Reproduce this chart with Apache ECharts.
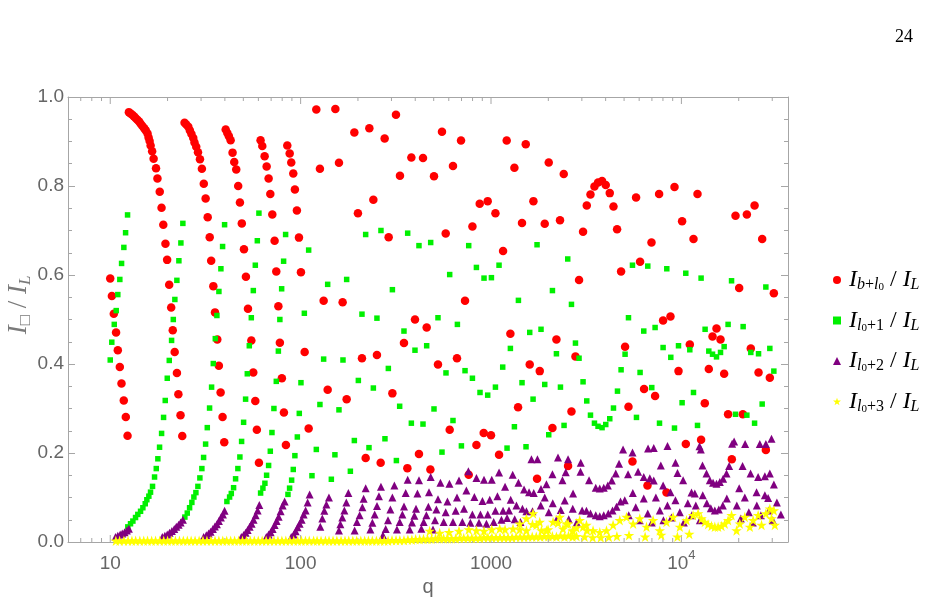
<!DOCTYPE html>
<html><head><meta charset="utf-8">
<script src="https://cdn.jsdelivr.net/npm/echarts@6/dist/echarts.min.js"></script>
<style>html,body{margin:0;padding:0;background:#fff}#c{width:940px;height:607px}</style>
</head><body><div id="c"></div>
<script>
// ---------- data ----------
const xMajorTicks = [10, 100, 1000, 10000];
const xMinorTicks = [7, 8, 9, 20, 30, 40, 50, 60, 70, 80, 90, 200, 300, 400, 500, 600, 700, 800, 900,
  2000, 3000, 4000, 5000, 6000, 7000, 8000, 9000, 20000, 30000];
const yTickLabels = ['0.0', '0.2', '0.4', '0.6', '0.8', '1.0'];
const seriesNames = ['Ib+l0/IL', 'Il0+1/IL', 'Il0+2/IL', 'Il0+3/IL'];

const redPts = [
  [10.0,0.592],[10.2,0.553],[10.44,0.513],[10.73,0.471],[10.96,0.431],[11.23,0.393],[11.46,0.356],[11.78,0.318],[12.07,0.281],[12.33,0.239],
  [12.53,0.966],[12.78,0.963],[13.05,0.96],[13.3,0.957],[13.58,0.953],[13.87,0.949],[14.17,0.945],[14.45,0.94],[14.75,0.935],[15.07,0.93],[15.37,0.925],[15.7,0.918],[15.9,0.909],[16.1,0.901],[16.3,0.891],[16.6,0.878],[16.9,0.861],[17.4,0.84],[17.7,0.817],[18.2,0.787],[18.6,0.751],[19.0,0.713],[19.5,0.67],[19.9,0.634],[20.4,0.578],[20.9,0.527],[21.3,0.476],[21.8,0.427],[22.4,0.38],[22.8,0.332],[23.4,0.285],[23.9,0.238],
  [24.57,0.942],[25.08,0.938],[25.7,0.933],[26.2,0.925],[26.7,0.917],[27.3,0.908],[27.7,0.898],[28.3,0.888],[28.9,0.876],[29.6,0.86],[30.3,0.839],[31.0,0.805],[31.7,0.772],[32.5,0.73],[33.3,0.685],[33.9,0.632],[34.8,0.575],[35.5,0.516],[36.5,0.455],[37.2,0.396],[38.0,0.336],[38.9,0.281],[39.7,0.224],
  [40.4,0.927],[41.2,0.919],[42.0,0.912],[42.9,0.903],[43.9,0.875],[44.8,0.854],[45.9,0.837],[47.0,0.8],[48.0,0.763],[49.1,0.716],[50.4,0.658],[51.6,0.596],[52.9,0.524],[55.1,0.453],[56.4,0.381],[57.8,0.317],[58.9,0.252],[60.4,0.178],
  [61.6,0.903],[62.9,0.89],[64.7,0.867],[66.3,0.844],[67.9,0.817],[69.3,0.782],[71.0,0.736],[73.0,0.677],[74.5,0.608],[76.4,0.53],[77.8,0.448],[79.7,0.368],[81.7,0.291],[83.7,0.218],
  [85.1,0.891],[87.6,0.873],[89.3,0.853],[91.5,0.828],[93.3,0.792],[95.6,0.745],[98.0,0.684],[100.4,0.606],[105.0,0.427],[110.2,0.255],
  [120.9,0.972],[126.3,0.839],[132.1,0.542],[138.7,0.342],[152.2,0.973],[159.0,0.852],[166.2,0.539],[174.5,0.321],[191.5,0.92],[200.0,0.739],[210.0,0.413],[219.6,0.189],
  [229.6,0.93],[241.0,0.769],[251.7,0.42],[263.3,0.178],[276.3,0.907],[290.0,0.685],[303.4,0.334],[316.8,0.96],[332.5,0.823],[349.0,0.447],[363.6,0.166],[381.6,0.864],
  [398.7,0.5],[418.4,0.198],[439.3,0.863],[459.3,0.482],[480.4,0.163],[501.8,0.822],[526.6,0.399],[552.7,0.922],[578.1,0.693],[606.7,0.252],[631.3,0.845],[662.6,0.413],
  [695.8,0.902],[730.3,0.542],[763.6,0.151],[798.7,0.709],[838.2,0.218],[872.3,0.76],[915.6,0.245],[960.7,0.766],[1000,0.24],[1055,0.739],[1102,0.196],[1157,0.654],
  [1209,0.902],[1264,0.468],[1327,0.841],[1387,0.303],[1455,0.717],[1522,0.894],[1597,0.399],[1670,0.766],[1745,0.142],[1803,0.384],[1915,0.715],[2010,0.853],
  [2102,0.256],[2206,0.455],[2304,0.723],[2410,0.827],[2540,0.171],[2646,0.293],[2777,0.417],[2900,0.589],[3044,0.697],[3184,0.756],[3330,0.781],[3494,0.799],
  [3649,0.808],[3831,0.811],[4006,0.802],[4205,0.784],[4398,0.754],[4594,0.703],[4822,0.608],[5060,0.439],[5273,0.304],[5534,0.181],[5780,0.774],[6067,0.63],
  [6368,0.344],[6634,0.127],[6965,0.673],[7275,0.328],[7636,0.782],[8014,0.498],[8350,0.111],[8763,0.507],[9198,0.798],[9656,0.384],[10085,0.721],[10550,0.22],
  [11070,0.444],[11575,0.681],[12150,0.782],[12690,0.23],[13270,0.312],[13930,0.389],[14570,0.462],[15290,0.48],[16050,0.455],[16770,0.378],[17590,0.287],[18400,0.186],
  [19240,0.733],[20110,0.571],[21020,0.287],[22070,0.736],[23150,0.435],[24230,0.756],[25420,0.381],[26560,0.681],[27770,0.207],[29140,0.369],[30590,0.559]
];

const greenPts = [
  [10.0,0.409],[10.19,0.449],[10.5,0.489],[10.75,0.52],[10.96,0.556],[11.23,0.59],[11.47,0.626],[11.79,0.662],[12.04,0.695],[12.33,0.735],
  [12.37,0.034],[12.78,0.041],[13.15,0.047],[13.58,0.055],[13.96,0.062],[14.43,0.069],[14.84,0.077],[15.27,0.086],[15.57,0.095],[15.95,0.103],[16.28,0.112],[16.68,0.125],[17.09,0.146],[17.45,0.165],[17.79,0.187],[18.16,0.213],[18.61,0.244],[19.06,0.28],[19.45,0.318],[19.93,0.368],[20.42,0.408],[21.0,0.453],[21.44,0.5],[21.85,0.545],[22.39,0.588],[22.94,0.632],[23.5,0.672],[24.07,0.716],
  [24.66,0.056],[25.39,0.065],[26.11,0.077],[26.84,0.089],[27.5,0.101],[28.18,0.111],[28.87,0.125],[29.57,0.144],[30.29,0.165],[30.93,0.19],[31.69,0.22],[32.34,0.257],[33.25,0.301],[34.07,0.348],[34.78,0.401],[35.63,0.457],[36.33,0.509],[37.22,0.563],[38.13,0.614],[38.92,0.664],[39.87,0.713],
  [41.0,0.091],[42.36,0.101],[43.24,0.109],[44.45,0.122],[45.54,0.142],[46.82,0.165],[47.97,0.191],[48.98,0.226],[50.18,0.269],[51.4,0.321],[52.47,0.378],[53.76,0.441],[55.08,0.504],[56.43,0.565],[57.81,0.622],[59.23,0.677],[60.39,0.739],
  [61.63,0.11],[63.37,0.121],[64.92,0.132],[66.27,0.15],[67.9,0.172],[69.3,0.204],[70.7,0.246],[72.4,0.3],[74.5,0.361],[76.4,0.429],[77.8,0.5],[79.5,0.569],[81.4,0.631],[83.4,0.691],
  [85.8,0.107],[87.5,0.121],[89.7,0.139],[91.5,0.163],[93.3,0.194],[96.1,0.236],[98.4,0.289],[100.4,0.358],[104.6,0.514],[110.2,0.656],
  [114.7,0.149],[120.9,0.208],[126.3,0.309],[132.1,0.411],[138.7,0.579],[145.0,0.141],[151.4,0.196],[159.0,0.297],[166.9,0.409],[174.5,0.59],[182.5,0.159],[191.5,0.228],
  [201.0,0.363],[210.0,0.512],[219.6,0.691],[228.6,0.212],[241.0,0.346],[251.7,0.503],[264.2,0.7],[277.3,0.232],[288.9,0.39],[303.4,0.567],[318.4,0.183],[331.3,0.305],
  [349.0,0.474],[365.0,0.694],[381.6,0.267],[398.7,0.431],[418.4,0.666],[439.3,0.265],[459.3,0.441],[482.1,0.673],[501.8,0.299],[526.6,0.504],[552.7,0.202],[580.1,0.38],
  [606.7,0.601],[631.3,0.273],[665.9,0.489],[699.0,0.216],[730.3,0.385],[763.6,0.666],[798.7,0.368],[838.2,0.617],[875.4,0.336],[918.9,0.593],[960.7,0.33],[1005,0.594],
  [1055,0.348],[1102,0.622],[1152,0.393],[1214,0.211],[1264,0.435],[1327,0.259],[1393,0.543],[1455,0.358],[1527,0.214],[1597,0.471],[1663,0.321],[1745,0.668],
  [1831,0.478],[1915,0.354],[2010,0.241],[2102,0.565],[2206,0.423],[2316,0.348],[2419,0.262],[2529,0.636],[2646,0.534],[2777,0.447],[2900,0.413],[3044,0.36],
  [3184,0.317],[3330,0.285],[3494,0.267],[3649,0.26],[3831,0.257],[4006,0.264],[4205,0.277],[4398,0.301],[4616,0.339],[4822,0.387],[5060,0.422],[5273,0.504],
  [5534,0.622],[5808,0.28],[6067,0.381],[6344,0.474],[6659,0.62],[6989,0.347],[7275,0.482],[7674,0.267],[8014,0.437],[8381,0.614],[8797,0.415],[9198,0.256],
  [9656,0.441],[10085,0.313],[10545,0.604],[11070,0.432],[11575,0.336],[12150,0.262],[12690,0.593],[13320,0.478],[13930,0.429],[14570,0.422],[15290,0.416],[16050,0.426],
  [16770,0.439],[17590,0.489],[18340,0.587],[19240,0.287],[21100,0.484],[22070,0.285],[23150,0.426],[24230,0.267],[25420,0.423],[26560,0.31],[27770,0.573],[29140,0.435],[30590,0.384]
];

const purplePts = [
  [10.66,0.011],[10.96,0.014],[11.28,0.017],[11.56,0.019],[11.89,0.022],[12.23,0.026],[12.53,0.03],
  [18.77,0.011],[19.36,0.014],[19.93,0.017],[20.49,0.021],[21.07,0.025],[21.69,0.029],[22.23,0.034],[22.86,0.039],[23.42,0.044],[24.07,0.05],
  [30.93,0.011],[31.96,0.015],[32.86,0.019],[33.66,0.023],[34.61,0.029],[35.46,0.035],[36.33,0.04],[37.22,0.047],[38.13,0.055],[39.07,0.062],[39.87,0.07],
  [48.79,0.011],[50.18,0.016],[51.4,0.021],[52.66,0.027],[53.95,0.034],[55.28,0.041],[56.62,0.05],[58.01,0.06],[59.44,0.071],[60.67,0.083],
  [66.05,0.011],[67.9,0.017],[69.56,0.022],[71.29,0.029],[73.03,0.038],[74.82,0.047],[76.65,0.057],[78.52,0.069],[80.44,0.082],[82.41,0.091],
  [89.3,0.011],[91.9,0.017],[94.1,0.024],[96.4,0.033],[98.8,0.041],[101.2,0.05],[103.7,0.062],[106.2,0.071],[108.8,0.089],[111.5,0.107],
  [126.9,0.034],[130.0,0.053],[133.2,0.07],[136.5,0.084],[140.8,0.1],
  [159.0,0.026],[161.7,0.04],[165.6,0.055],[169.7,0.071],[173.8,0.089],[178.1,0.11],
  [192.2,0.026],[197.6,0.045],[204.2,0.06],[211.0,0.078],[214.3,0.097],[219.6,0.121],
  [232.5,0.028],[238.2,0.043],[244.9,0.062],[251.8,0.081],[257.9,0.103],[264.2,0.124],[270.7,0.015],
  [279.7,0.029],[287.6,0.049],[296.1,0.073],[303.4,0.1],[310.8,0.127],
  [320.6,0.028],[331.3,0.045],[342.3,0.062],[349.0,0.08],[356.3,0.11],[365.0,0.14],
  [374.0,0.028],[384.6,0.044],[395.9,0.059],[403.6,0.075],[410.6,0.109],[418.6,0.139],
  [430.9,0.03],[443.0,0.045],[457.7,0.06],[468.9,0.079],[472.3,0.112],[482.1,0.146],
  [495.7,0.028],[507.9,0.049],[516.6,0.073],[526.6,0.096],[542.3,0.133],
  [564.4,0.045],[578.1,0.067],[590.2,0.091],[604.6,0.131],
  [631.3,0.045],[652.3,0.07],[662.6,0.1],[678.8,0.138],
  [707.4,0.045],[721.2,0.075],[742.4,0.116],[760.6,0.159],
  [779.3,0.043],[798.4,0.062],[818.0,0.101],[838.2,0.144],
  [864.9,0.043],[879.9,0.062],[901.4,0.092],[918.9,0.14],
  [945.9,0.041],[961.0,0.062],[984.5,0.095],[1009,0.14],
  [1033,0.045],[1055,0.07],[1081,0.103],[1102,0.156],
  [1134,0.05],[1157,0.07],[1185,0.124],
  [1214,0.054],[1243,0.071],[1269,0.095],[1300,0.151],
  [1332,0.051],[1360,0.082],[1393,0.133],
  [1427,0.045],[1462,0.075],[1491,0.118],
  [1535,0.069],[1584,0.112],[1631,0.186],
  [1651,0.069],[1677,0.11],[1753,0.186],
  [1831,0.119],[1955,0.13],[2102,0.152],[2249,0.19],[2373,0.139],[2470,0.157],[2539,0.186],[2697,0.109],[2951,0.158],[2961,0.178],
  [3273,0.139],[3550,0.122],[3726,0.12],[3910,0.122],[4106,0.127],[4309,0.138],[4522,0.154],[4706,0.176],[4940,0.208],[5248,0.152],
  [5534,0.201],[5922,0.158],[6344,0.146],[6683,0.21],[6823,0.143],[7160,0.211],[7160,0.138],[7795,0.172],[8015,0.127],[8454,0.216],
  [8763,0.112],[9311,0.178],[9539,0.155],[10207,0.139],[11298,0.111],[11760,0.109],[12450,0.215],[12650,0.208],[12910,0.172],[13550,0.154],
  [14100,0.139],[14670,0.133],[15290,0.131],[15910,0.135],[16560,0.142],[17260,0.154],[17810,0.171],[18470,0.221],[18920,0.226],[20110,0.121],
  [20950,0.171],[21610,0.22],[23080,0.154],[24810,0.112],[25300,0.146],[25820,0.22],[27440,0.148],[27770,0.22],[28550,0.099],[29140,0.154],
  [29740,0.232],[30590,0.129],
  [1825,0.082],[1915,0.1],[2010,0.067],[2110,0.087],[2214,0.051],[2324,0.072],[2439,0.093],[2560,0.051],[2687,0.075],[2820,0.044],
  [3010,0.071],[3172,0.07],[3330,0.064],[3550,0.06],[3726,0.058],[3910,0.06],[4130,0.064],[4345,0.071],[4560,0.079],[4786,0.091],
  [5042,0.094],[5292,0.06],[5555,0.11],[5758,0.078],[6045,0.049],[6344,0.098],[6659,0.064],[6989,0.044],[7345,0.1],[7700,0.071],
  [8045,0.049],[8445,0.082],[8863,0.055],[9303,0.094],[9808,0.067],[10295,0.044],[10805,0.087],[11340,0.06],[11905,0.082],[12500,0.049],
  [12950,0.105],[13600,0.087],[14270,0.076],[14980,0.071],[15720,0.073],[16500,0.082],[17320,0.098],
  [19540,0.082],[20510,0.053],[21530,0.1],[22590,0.067],[23720,0.044],[24900,0.082],[26140,0.06],[27440,0.105],[28790,0.071],[30220,0.049],
  [31720,0.089],[33310,0.062]
];

const yellowPts = [
  [10.7,0.003],[11.2,0.003],[11.8,0.003],[12.4,0.003],[13.0,0.003],[13.6,0.003],[14.3,0.003],[15.0,0.003],[15.7,0.003],[16.5,0.003],
  [17.3,0.003],[18.2,0.003],[19.1,0.003],[20.0,0.003],[21.0,0.003],[22.0,0.003],[23.1,0.003],[24.2,0.003],[25.4,0.003],[26.6,0.003],
  [27.9,0.003],[29.3,0.003],[30.7,0.003],[32.2,0.003],[33.8,0.003],[35.5,0.003],[37.2,0.003],[39.0,0.003],[40.9,0.003],[42.9,0.003],
  [45.0,0.003],[47.2,0.003],[49.5,0.003],[51.9,0.003],[54.4,0.003],[57.1,0.003],[59.9,0.003],[62.8,0.003],[65.9,0.003],[69.1,0.003],
  [72.5,0.003],[76.0,0.003],[79.7,0.003],[83.6,0.003],[87.7,0.003],[92.0,0.003],[96.5,0.003],[101,0.003],[106,0.003],[111,0.003],
  [117,0.003],[122,0.003],[128,0.003],[135,0.003],[141,0.003],[148,0.003],[155,0.003],[163,0.003],[171,0.003],[179,0.003],
  [188,0.003],[197,0.003],[207,0.003],[217,0.003],[227,0.003],[238,0.003],[250,0.003],[262,0.003],[275,0.003],[288,0.003],
  [302,0.004],[317,0.004],[332,0.004],[349,0.004],[366,0.005],[384,0.005],[402,0.006],[422,0.006],[442,0.007],[464,0.007],
  [487,0.007],[511,0.008],[537,0.008],[564,0.008],[592,0.008],[621,0.008],[652,0.008],[685,0.009],[719,0.009],[755,0.009],
  [793,0.009],[832,0.009],[874,0.009],[917,0.01],[963,0.01],[1011,0.01],[1062,0.01],[1115,0.01],[1170,0.01],[1229,0.01],
  [1290,0.01],[1355,0.011],[1422,0.011],[1493,0.011],[1568,0.012],[1646,0.012],[1728,0.012],[1815,0.012],[1905,0.013],[2001,0.013],
  [2100,0.013],[2205,0.012],[2316,0.014],[2431,0.012],[2553,0.014],[2680,0.012],[2814,0.013],[3102,0.012],[3420,0.01],[3771,0.01],
  [4157,0.011],[4583,0.013],[5306,0.015],[6449,0.012],[7839,0.016],[9528,0.012],[11000,0.018],
  [476.4,0.025],[537.7,0.02],[601.7,0.022],[678.8,0.025],[763.6,0.028],[838.2,0.026],[918.9,0.025],[1009,0.028],[1111,0.03],[1185,0.028],
  [1305,0.03],[1415,0.028],[1535,0.026],[1651,0.04],[1732,0.038],[1841,0.026],[1993,0.028],[2249,0.043],[2389,0.03],[2539,0.041],
  [2677,0.025],[2810,0.032],[3044,0.034],[3195,0.026],
  [1415,0.041],[1535,0.053],[1663,0.064],[1803,0.045],[1955,0.026],[2118,0.045],[2296,0.056],[2490,0.041],[2697,0.026],[2925,0.049],
  [3172,0.038],[3436,0.026],[3726,0.022],[4041,0.026],[4377,0.038],[4746,0.049],[5146,0.056],[5578,0.041],[6045,0.053],[6556,0.034],
  [7101,0.049],[7700,0.026],[8350,0.045],[9047,0.056],[9808,0.034],[10640,0.049],[11520,0.06],[12240,0.064],[12760,0.053],[13270,0.045],
  [13810,0.04],[14390,0.036],[14980,0.034],[15590,0.034],[16240,0.036],[16900,0.041],[17590,0.049],[18340,0.06],[19480,0.026],[20270,0.041],
  [21530,0.056],[22880,0.034],[23810,0.049],[25300,0.06],[26360,0.038],[27770,0.064],[29140,0.075],[29740,0.053],[30590,0.071],[30960,0.038]
];

// ---------- chart ----------
const AX = '#a6a6a6';
const LBL = '#666666';
const SANS = '"Liberation Sans", Arial, sans-serif';
const SERIF = '"Liberation Serif", "DejaVu Serif", serif';
const STAR = 'path://M50,0 L61.8,35.5 L99,35.5 L69,57.5 L80.5,93 L50,71 L19.5,93 L31,57.5 L1,35.5 L38.2,35.5 Z';

const chart = echarts.init(document.getElementById('c'), null, {renderer: 'canvas'});

const tickData = xMajorTicks.map(v => [v, 1]).concat(xMinorTicks.map(v => [v, 0]));

const legendRich = {
  sp: {width: 3},
  I: {fontFamily: SERIF, fontStyle: 'italic', fontSize: 24, color: '#000', lineHeight: 26, verticalAlign: 'middle'},
  s: {fontFamily: SERIF, fontStyle: 'italic', fontSize: 16, color: '#000', lineHeight: 13, verticalAlign: 'bottom'},
  sn: {fontFamily: SERIF, fontSize: 16, color: '#000', lineHeight: 13, verticalAlign: 'bottom'},
  ss: {fontFamily: SERIF, fontSize: 11, color: '#000', lineHeight: 7, verticalAlign: 'bottom'},
  sl: {fontFamily: SERIF, fontSize: 24, color: '#000', lineHeight: 26, verticalAlign: 'middle'}
};
const legendText = {
  'Ib+l0/IL': '{sp|}{I|I}{s|b}{sn|+}{s|l}{ss|0}{sl| / }{I|I}{s|L}',
  'Il0+1/IL': '{sp|}{I|I}{s|l}{ss|0}{sn|+1}{sl| / }{I|I}{s|L}',
  'Il0+2/IL': '{sp|}{I|I}{s|l}{ss|0}{sn|+2}{sl| / }{I|I}{s|L}',
  'Il0+3/IL': '{sp|}{I|I}{s|l}{ss|0}{sn|+3}{sl| / }{I|I}{s|L}'
};

function xLabel(v) {
  const lg = Math.log10(v);
  const e = Math.round(lg);
  if (Math.abs(lg - e) > 1e-6) return '';
  if (e >= 4) return '{b|10}{sup|' + e + '}';
  return '{b|' + xMajorTicks[e - 1] + '}';
}

const yAxisBase = {
  type: 'value', min: 0, max: 1, interval: 0.2,
  axisLine: {show: true, lineStyle: {color: AX, width: 1}},
  axisTick: {show: true, inside: true, length: 7, lineStyle: {color: AX}},
  minorTick: {show: true, splitNumber: 4, length: 4, lineStyle: {color: AX}},
  splitLine: {show: false}
};

const option = {
  animation: false,
  backgroundColor: '#ffffff',
  grid: {left: 68, right: 152, top: 97, bottom: 65},
  xAxis: [
    {
      type: 'log', logBase: 10, min: 6, max: 36300, position: 'bottom',
      axisLine: {show: true, onZero: false, lineStyle: {color: AX}},
      axisTick: {show: false}, splitLine: {show: false}, minorTick: {show: false},
      axisLabel: {
        show: true, margin: 7, showMinLabel: false, showMaxLabel: false,
        formatter: xLabel,
        rich: {
          b: {fontFamily: SANS, fontSize: 19, color: LBL, lineHeight: 24, verticalAlign: 'bottom'},
          sup: {fontFamily: SANS, fontSize: 13, color: LBL, lineHeight: 12, verticalAlign: 'top'}
        }
      },
      name: 'q', nameLocation: 'middle', nameGap: 27,
      nameTextStyle: {fontFamily: SANS, fontSize: 20, color: LBL}
    },
    {
      type: 'log', logBase: 10, min: 6, max: 36300, position: 'top',
      axisLine: {show: true, onZero: false, lineStyle: {color: AX}},
      axisTick: {show: false}, axisLabel: {show: false}, splitLine: {show: false}
    }
  ],
  yAxis: [
    Object.assign({}, yAxisBase, {
      position: 'left',
      axisLabel: {
        show: true, margin: 4, fontFamily: SANS, fontSize: 19, color: LBL,
        formatter: v => yTickLabels[Math.round(v * 5)]
      }
    }),
    Object.assign({}, yAxisBase, {position: 'right', axisLabel: {show: false}})
  ],
  legend: {
    orient: 'vertical', left: 828, top: 263, itemWidth: 8, itemHeight: 8, itemGap: 15.5,
    data: [
      {name: seriesNames[0], icon: 'circle'},
      {name: seriesNames[1], icon: 'rect'},
      {name: seriesNames[2], icon: 'triangle'},
      {name: seriesNames[3], icon: STAR}
    ],
    formatter: n => legendText[n],
    textStyle: {rich: legendRich},
    selectedMode: false
  },
  graphic: [
    {
      type: 'text', left: 895, top: 28,
      style: {text: '24', fontFamily: SERIF, fontSize: 18, fill: '#000'}
    },
    {
      type: 'text', x: 19, y: 305, rotation: Math.PI / 2,
      style: {
        text: '{I|I}{s|□}{sl| / }{I|I}{s|L}',
        align: 'center', verticalAlign: 'middle',
        rich: {
          I: {fontFamily: SERIF, fontStyle: 'italic', fontSize: 27, fill: '#7a7a7a', lineHeight: 30, verticalAlign: 'middle'},
          s: {fontFamily: SERIF, fontStyle: 'italic', fontSize: 17, fill: '#7a7a7a', lineHeight: 14, verticalAlign: 'bottom'},
          sl: {fontFamily: SERIF, fontSize: 27, fill: '#7a7a7a', lineHeight: 30, verticalAlign: 'middle'}
        }
      }
    }
  ],
  series: [
    {
      name: seriesNames[0], type: 'scatter', data: redPts, symbol: 'circle', symbolSize: 8.5,
      itemStyle: {color: '#ff0000', opacity: 1}, z: 2
    },
    {
      name: seriesNames[1], type: 'scatter', data: greenPts, symbol: 'rect', symbolSize: 5.5,
      itemStyle: {color: '#00f000', opacity: 1}, z: 3
    },
    {
      name: seriesNames[2], type: 'scatter', data: purplePts, symbol: 'triangle', symbolSize: 8,
      itemStyle: {color: '#800080', opacity: 1}, z: 4
    },
    {
      name: seriesNames[3], type: 'scatter', data: yellowPts, symbol: STAR, symbolSize: 10.5,
      itemStyle: {color: '#ffff00', opacity: 1}, z: 5
    },
    {
      name: 'ticks', type: 'custom', data: tickData, silent: true, z: 1,
      xAxisIndex: 0, yAxisIndex: 0,
      renderItem: function (params, api) {
        const q = api.value(0);
        const len = api.value(1) ? 7 : 4;
        const pb = api.coord([q, 0]);
        const pt = api.coord([q, 1]);
        return {
          type: 'group',
          children: [
            {type: 'line', shape: {x1: pb[0], y1: pb[1], x2: pb[0], y2: pb[1] - len}, style: {stroke: AX, lineWidth: 1}},
            {type: 'line', shape: {x1: pt[0], y1: pt[1], x2: pt[0], y2: pt[1] + len}, style: {stroke: AX, lineWidth: 1}}
          ]
        };
      }
    }
  ]
};
chart.setOption(option);
</script>
</body></html>
